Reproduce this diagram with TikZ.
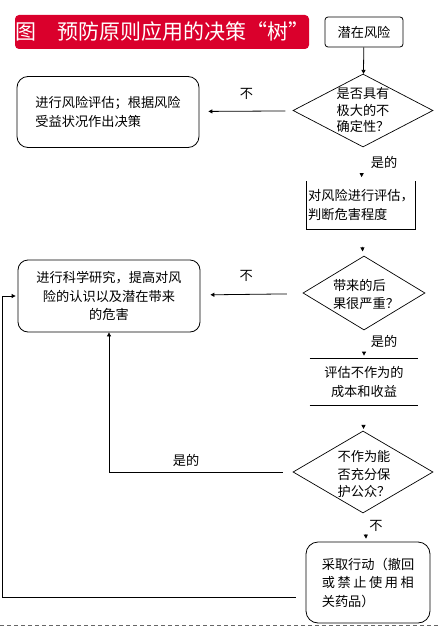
\documentclass[tikz,border=0pt]{standalone}
\usepackage{fontspec}
\setmainfont{Noto Sans CJK SC}
\usetikzlibrary{arrows.meta,shapes.geometric}
\definecolor{titlered}{RGB}{218,0,44}
\begin{document}
\begin{tikzpicture}[x=1pt,y=-1pt,line width=0.8pt,
  every node/.style={font=\fontsize{13.2}{18.5}\selectfont,inner sep=0pt},
  box/.style={draw,rounded corners=11pt,align=center},
  decision/.style={draw,diamond,line width=0.7pt},
  dtext/.style={align=left,font=\fontsize{13.2}{16.5}\selectfont},
  arr/.style={-{Triangle[length=4pt,width=4pt]}}]
\useasboundingbox (0,0) rectangle (438,626);
\node[fill=titlered,text=white,rounded corners=4pt,minimum width=292pt,minimum height=34pt,
  font=\fontsize{21}{24}\selectfont] (title) at (162,32) {图\quad 预防原则应用的决策“树”};
\node[box,rounded corners=3pt,minimum width=78pt,minimum height=30pt] (risk) at (364,32) {潜在风险};
\node[decision,minimum width=140pt,minimum height=73pt] (q1) at (363,110.5) {};
\node[dtext] (q1t) at (363,110.5) {是否具有\\极大的不\\确定性？};
\node[box,align=left,minimum width=182pt,minimum height=71pt] (act1) at (108,112) {进行风险评估；根据风险\\受益状况作出决策};
\node[align=left,minimum width=108pt,minimum height=47pt] (assess) at (361,205) {对风险进行评估，\\判断危害程度};
\draw (assess.north west) |- (assess.south east) -- (assess.north east);
\node[decision,minimum width=122pt,minimum height=74pt] (q2) at (364,293) {};
\node[dtext,font=\fontsize{13.2}{18}\selectfont] (q2t) at (366,294) {带来的后\\果很严重？};
\node[box,rounded corners=10pt,minimum width=182pt,minimum height=72pt] (study) at (109,296) {进行科学研究，提高对风\\险的认识以及潜在带来\\的危害};
\node[align=center,minimum width=108pt,minimum height=46pt] (cost) at (364,382) {评估不作为的\\成本和收益};
\draw (cost.north west) -- (cost.north east) (cost.south west) -- (cost.south east);
\node[decision,minimum width=140pt,minimum height=82pt] (q3) at (363,472) {};
\node[dtext,font=\fontsize{13.2}{17.5}\selectfont] (q3t) at (364,474) {不作为能\\否充分保\\护公众？};
\node[box,rounded corners=12pt,align=left,minimum width=124pt,minimum height=81pt] (act2) at (368,582.5)
  {采取行动（撤回\\\makebox[92pt]{或\hfill 禁\hfill 止\hfill 使\hfill 用\hfill 相}\\关药品）};
\draw[arr] (risk) -- (q1);
\draw[arr,shorten <=8pt,shorten >=9pt] (q1) -- node[above=11pt] (no1) {不} (act1);
\draw[arr,shorten <=27pt,shorten >=4pt] (q1) -- (assess);
\node (yes1) at (384,162) {是的};
\draw[arr,shorten <=18pt,shorten >=5pt] (assess) -- (q2);
\draw[arr,shorten <=17pt,shorten >=10pt] (q2) -- node[above=12pt,xshift=-6pt] (no2) {不} (study);
\draw[arr,shorten <=22pt,shorten >=3pt] (q2) -- (cost);
\node (yes2) at (384,341) {是的};
\draw[arr,shorten <=20pt,shorten >=2pt] (cost) -- (q3);
\draw[arr,shorten <=10pt] (q3) -| (study.south);
\node (yes3) at (186,460) {是的};
\draw[arr,shorten <=22pt,shorten >=3pt] (q3) -- (act2);
\node (no3) at (376,526) {不};
\draw[arr,shorten <=10pt,shorten >=2pt] ([yshift=-14.5pt]act2.west) -- ++(-303,0) |- (study.west);
\draw[black!60,dash pattern=on 4pt off 3pt] (0,625.3) -- (438,625.3);
\end{tikzpicture}
\end{document}
